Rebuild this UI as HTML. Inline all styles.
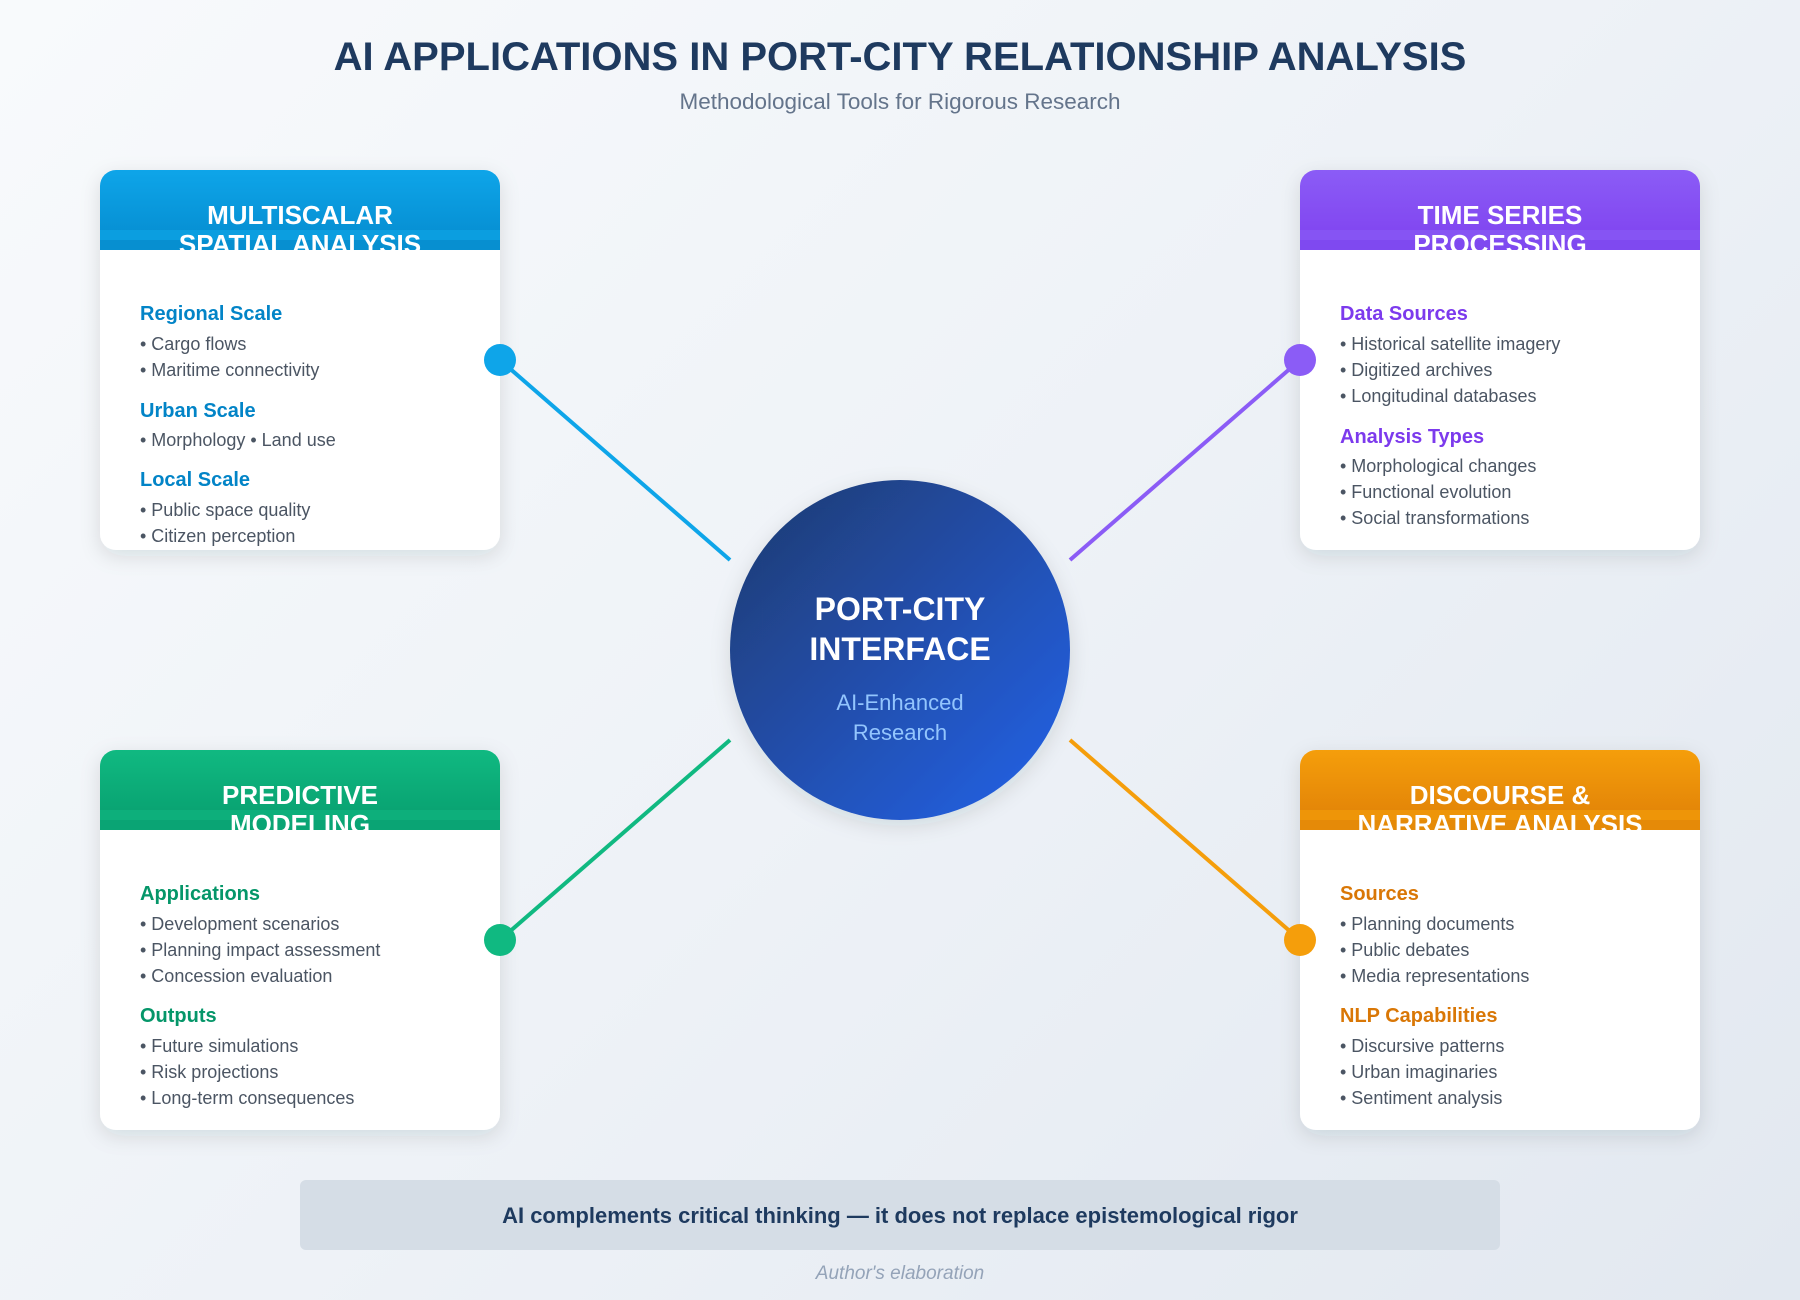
<!DOCTYPE html>
<html><head><meta charset="utf-8"><style>
html,body{margin:0;padding:0;width:1800px;height:1300px;overflow:hidden}
body{background:linear-gradient(135deg,#f8fafc 0%,#eef2f7 50%,#e2e8f0 100%);font-family:"Liberation Sans",sans-serif}
</style></head><body>
<svg width="1800" height="1300" xmlns="http://www.w3.org/2000/svg" style="position:absolute;left:0;top:0;font-family:'Liberation Sans',sans-serif">
<defs>
<filter id="sh" x="-20%" y="-20%" width="140%" height="140%"><feDropShadow dx="0" dy="6" stdDeviation="10" flood-color="#1e293b" flood-opacity="0.12"/></filter>
<linearGradient id="gc" x1="0" y1="0" x2="1" y2="1"><stop offset="0" stop-color="#1e3a6e"/><stop offset="1" stop-color="#2563eb"/></linearGradient>
<linearGradient id="gb" x1="0" y1="0" x2="0" y2="1"><stop offset="0" stop-color="#0ea5e9"/><stop offset="1" stop-color="#0284c7"/></linearGradient>
<linearGradient id="gp" x1="0" y1="0" x2="0" y2="1"><stop offset="0" stop-color="#8b5cf6"/><stop offset="1" stop-color="#7c3aed"/></linearGradient>
<linearGradient id="gg" x1="0" y1="0" x2="0" y2="1"><stop offset="0" stop-color="#10b981"/><stop offset="1" stop-color="#059669"/></linearGradient>
<linearGradient id="go" x1="0" y1="0" x2="0" y2="1"><stop offset="0" stop-color="#f59e0b"/><stop offset="1" stop-color="#d97706"/></linearGradient>
<clipPath id="c1"><rect x="100" y="170" width="400" height="80"/></clipPath>
<clipPath id="c2"><rect x="1300" y="170" width="400" height="80"/></clipPath>
<clipPath id="c3"><rect x="100" y="750" width="400" height="80"/></clipPath>
<clipPath id="c4"><rect x="1300" y="750" width="400" height="80"/></clipPath>
</defs>

<text x="900" y="70" text-anchor="middle" font-size="40" font-weight="bold" fill="#1e3a5f">AI APPLICATIONS IN PORT-CITY RELATIONSHIP ANALYSIS</text>
<text x="900" y="109" text-anchor="middle" font-size="22.5" fill="#64748b">Methodological Tools for Rigorous Research</text>

<line x1="500" y1="360" x2="730" y2="560" stroke="#0ea5e9" stroke-width="4"/>
<line x1="1300" y1="360" x2="1070" y2="560" stroke="#8b5cf6" stroke-width="4"/>
<line x1="500" y1="940" x2="730" y2="740" stroke="#10b981" stroke-width="4"/>
<line x1="1300" y1="940" x2="1070" y2="740" stroke="#f59e0b" stroke-width="4"/>

<circle cx="900" cy="650" r="170" fill="url(#gc)" filter="url(#sh)"/>
<text x="900" y="620" text-anchor="middle" font-size="32" font-weight="bold" fill="#fff">PORT-CITY</text>
<text x="900" y="660" text-anchor="middle" font-size="32" font-weight="bold" fill="#fff">INTERFACE</text>
<text x="900" y="710" text-anchor="middle" font-size="22" fill="#93c5fd">AI-Enhanced</text>
<text x="900" y="740" text-anchor="middle" font-size="22" fill="#93c5fd">Research</text>

<rect x="100" y="170" width="400" height="380" rx="16" fill="#fff" filter="url(#sh)"/>
<g clip-path="url(#c1)">
<rect x="100" y="170" width="400" height="100" rx="16" fill="url(#gb)"/>
<rect x="100" y="230" width="400" height="20" fill="#0b9ee0"/><rect x="100" y="240" width="400" height="10" fill="#078fd0"/>
<text x="300" y="224" text-anchor="middle" font-size="26" font-weight="bold" fill="#fff">MULTISCALAR</text>
<text x="300" y="253" text-anchor="middle" font-size="26" font-weight="bold" fill="#fff">SPATIAL ANALYSIS</text>
</g>
<g font-size="18" fill="#4b5563">
<text x="140" y="320" font-size="20" font-weight="bold" fill="#0284c7">Regional Scale</text>
<text x="140" y="350">• Cargo flows</text>
<text x="140" y="376">• Maritime connectivity</text>
<text x="140" y="417" font-size="20" font-weight="bold" fill="#0284c7">Urban Scale</text>
<text x="140" y="446">• Morphology • Land use</text>
<text x="140" y="486" font-size="20" font-weight="bold" fill="#0284c7">Local Scale</text>
<text x="140" y="516">• Public space quality</text>
<text x="140" y="542">• Citizen perception</text>
</g>

<rect x="1300" y="170" width="400" height="380" rx="16" fill="#fff" filter="url(#sh)"/>
<g clip-path="url(#c2)">
<rect x="1300" y="170" width="400" height="100" rx="16" fill="url(#gp)"/>
<rect x="1300" y="230" width="400" height="20" fill="#8654f3"/><rect x="1300" y="240" width="400" height="10" fill="#7f49f0"/>
<text x="1500" y="224" text-anchor="middle" font-size="26" font-weight="bold" fill="#fff">TIME SERIES</text>
<text x="1500" y="253" text-anchor="middle" font-size="26" font-weight="bold" fill="#fff">PROCESSING</text>
</g>
<g font-size="18" fill="#4b5563">
<text x="1340" y="320" font-size="20" font-weight="bold" fill="#7c3aed">Data Sources</text>
<text x="1340" y="350">• Historical satellite imagery</text>
<text x="1340" y="376">• Digitized archives</text>
<text x="1340" y="402">• Longitudinal databases</text>
<text x="1340" y="443" font-size="20" font-weight="bold" fill="#7c3aed">Analysis Types</text>
<text x="1340" y="472">• Morphological changes</text>
<text x="1340" y="498">• Functional evolution</text>
<text x="1340" y="524">• Social transformations</text>
</g>

<rect x="100" y="750" width="400" height="380" rx="16" fill="#fff" filter="url(#sh)"/>
<g clip-path="url(#c3)">
<rect x="100" y="750" width="400" height="100" rx="16" fill="url(#gg)"/>
<rect x="100" y="810" width="400" height="20" fill="#0daf7b"/><rect x="100" y="820" width="400" height="10" fill="#0aa474"/>
<text x="300" y="804" text-anchor="middle" font-size="26" font-weight="bold" fill="#fff">PREDICTIVE</text>
<text x="300" y="833" text-anchor="middle" font-size="26" font-weight="bold" fill="#fff">MODELING</text>
</g>
<g font-size="18" fill="#4b5563">
<text x="140" y="900" font-size="20" font-weight="bold" fill="#059669">Applications</text>
<text x="140" y="930">• Development scenarios</text>
<text x="140" y="956">• Planning impact assessment</text>
<text x="140" y="982">• Concession evaluation</text>
<text x="140" y="1022" font-size="20" font-weight="bold" fill="#059669">Outputs</text>
<text x="140" y="1052">• Future simulations</text>
<text x="140" y="1078">• Risk projections</text>
<text x="140" y="1104">• Long-term consequences</text>
</g>

<rect x="1300" y="750" width="400" height="380" rx="16" fill="#fff" filter="url(#sh)"/>
<g clip-path="url(#c4)">
<rect x="1300" y="750" width="400" height="100" rx="16" fill="url(#go)"/>
<rect x="1300" y="810" width="400" height="20" fill="#ee9508"/><rect x="1300" y="820" width="400" height="10" fill="#e58a08"/>
<text x="1500" y="804" text-anchor="middle" font-size="26" font-weight="bold" fill="#fff">DISCOURSE &amp;</text>
<text x="1500" y="833" text-anchor="middle" font-size="26" font-weight="bold" fill="#fff">NARRATIVE ANALYSIS</text>
</g>
<g font-size="18" fill="#4b5563">
<text x="1340" y="900" font-size="20" font-weight="bold" fill="#d97706">Sources</text>
<text x="1340" y="930">• Planning documents</text>
<text x="1340" y="956">• Public debates</text>
<text x="1340" y="982">• Media representations</text>
<text x="1340" y="1022" font-size="20" font-weight="bold" fill="#d97706">NLP Capabilities</text>
<text x="1340" y="1052">• Discursive patterns</text>
<text x="1340" y="1078">• Urban imaginaries</text>
<text x="1340" y="1104">• Sentiment analysis</text>
</g>

<circle cx="500" cy="360" r="16" fill="#0ea5e9"/>
<circle cx="1300" cy="360" r="16" fill="#8b5cf6"/>
<circle cx="500" cy="940" r="16" fill="#10b981"/>
<circle cx="1300" cy="940" r="16" fill="#f59e0b"/>

<rect x="300" y="1180" width="1200" height="70" rx="6" fill="#d5dde6"/>
<text x="900" y="1223" text-anchor="middle" font-size="22" font-weight="bold" fill="#1e3a5f">AI complements critical thinking — it does not replace epistemological rigor</text>
<text x="900" y="1279" text-anchor="middle" font-size="19" font-style="italic" fill="#94a3b8">Author's elaboration</text>
</svg>
</body></html>
